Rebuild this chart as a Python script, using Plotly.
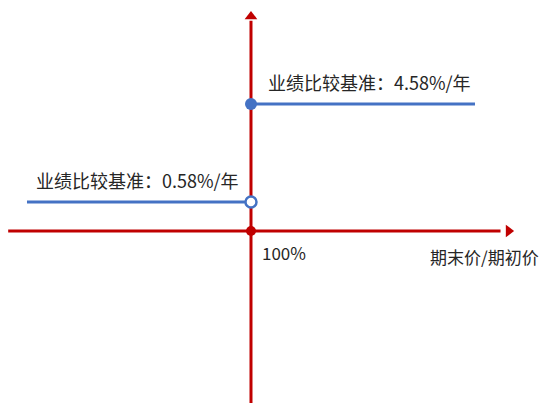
import plotly.graph_objects as go

# 期末价/期初价 (schematic), 100% sits at x = 1.0
ratio_low = [0.5, 1.0]
ratio_high = [1.0, 1.5]
# schematic heights of the two benchmark levels
level_low = 1.0
level_high = 4.38
# benchmark rates shown in the labels
rate_low = "0.58%"
rate_high = "4.58%"
origin_label = "100%"
x_title = "期末价/期初价"

# axis extents
x_axis_span = [0.458, 1.587]
y_axis_span = [-5.93, 7.6]

blue = "#4472C4"
red = "#C00000"
text_color = "#262626"
font_family = "Noto Sans CJK SC, Microsoft YaHei, sans-serif"

fig = go.Figure()

# horizontal axis line
fig.add_trace(go.Scatter(x=[x_axis_span[0], x_axis_span[1] - 0.03], y=[0, 0], mode="lines",
                         line=dict(color=red, width=3), hoverinfo="skip"))
# vertical axis line
fig.add_trace(go.Scatter(x=[1.0, 1.0], y=[y_axis_span[0], y_axis_span[1] - 0.35], mode="lines",
                         line=dict(color=red, width=3), hoverinfo="skip"))

# benchmark segments
fig.add_trace(go.Scatter(x=ratio_low, y=[level_low] * 2, mode="lines",
                         line=dict(color=blue, width=3), hoverinfo="skip"))
fig.add_trace(go.Scatter(x=ratio_high, y=[level_high] * 2, mode="lines",
                         line=dict(color=blue, width=3), hoverinfo="skip"))

# endpoints
fig.add_trace(go.Scatter(x=[ratio_high[0]], y=[level_high], mode="markers",
                         marker=dict(color=blue, size=12), hoverinfo="skip"))
fig.add_trace(go.Scatter(x=[ratio_low[1]], y=[level_low], mode="markers",
                         marker=dict(color="white", size=11, line=dict(color=blue, width=2.5)),
                         hoverinfo="skip"))
fig.add_trace(go.Scatter(x=[1.0], y=[0], mode="markers",
                         marker=dict(color=red, size=10), hoverinfo="skip"))

# arrow heads
fig.add_trace(go.Scatter(x=[x_axis_span[1] - 0.012], y=[0], mode="markers",
                         marker=dict(symbol="triangle-right", color=red, size=11), hoverinfo="skip"))
fig.add_trace(go.Scatter(x=[1.0], y=[y_axis_span[1] - 0.2], mode="markers",
                         marker=dict(symbol="triangle-up", color=red, size=11), hoverinfo="skip"))

label_font = dict(family=font_family, size=18, color=text_color)
fig.add_annotation(x=ratio_high[0], y=level_high, xref="x", yref="y", showarrow=False,
                   text="业绩比较基准：" + rate_high + "/年", xanchor="left", yanchor="bottom",
                   xshift=15, yshift=7, font=label_font)
fig.add_annotation(x=ratio_low[0], y=level_low, xref="x", yref="y", showarrow=False,
                   text="业绩比较基准：" + rate_low + "/年", xanchor="left", yanchor="bottom",
                   xshift=7, yshift=7, font=label_font)
fig.add_annotation(x=1.0, y=0, xref="x", yref="y", showarrow=False, text=origin_label,
                   xanchor="left", yanchor="top", xshift=9, yshift=-7,
                   font=dict(family=font_family, size=17, color=text_color))
fig.add_annotation(x=x_axis_span[1], y=0, xref="x", yref="y", showarrow=False, text=x_title,
                   xanchor="right", yanchor="top", xshift=27, yshift=-11,
                   font=dict(family=font_family, size=17, color=text_color))

# page body adds an 8px offset, so the ranges start 8px into the drawing
fig.update_layout(
    width=547, height=410,
    margin=dict(l=0, r=0, t=0, b=0),
    paper_bgcolor="white", plot_bgcolor="white",
    showlegend=False,
    xaxis=dict(range=[0.4576, 1.6786], visible=False, fixedrange=True),
    yaxis=dict(range=[-6.448, 7.690], visible=False, fixedrange=True),
)

fig.write_html("out.html")
